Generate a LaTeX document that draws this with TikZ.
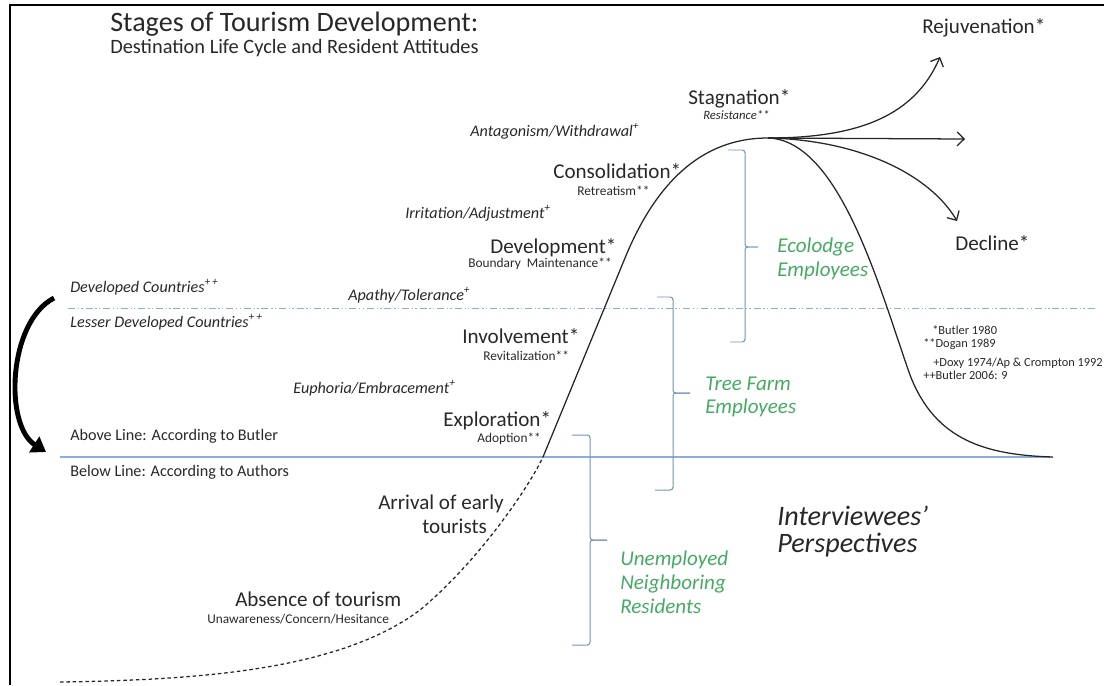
\documentclass[tikz,border=0pt]{standalone}
\usepackage{fontspec}
\setmainfont{Carlito}
\usetikzlibrary{arrows.meta}
\definecolor{textgray}{RGB}{40,40,40}
\definecolor{labelgreen}{RGB}{70,170,100}
\definecolor{lineblue}{RGB}{140,175,215}
\definecolor{bracegray}{RGB}{115,145,185}

\begin{document}
\begin{tikzpicture}[x=0.025cm, y=-0.025cm,
  lbl/.style={anchor=base west, inner sep=0pt, text=textgray},
  stage/.style={lbl, font=\fontsize{15}{18}\selectfont},
  sub/.style={lbl, font=\fontsize{9.5}{11}\selectfont},
  attitude/.style={lbl, font=\fontsize{11.5}{14}\selectfont\itshape},
  group/.style={lbl, text=labelgreen, font=\fontsize{15}{18}\selectfont\itshape},
  ref/.style={lbl, font=\fontsize{8.8}{10}\selectfont},
  bracket/.style={draw=bracegray, line width=0.7pt, rounded corners=2pt},
  curve/.style={line width=0.9pt, black!85},
  branch/.style={curve, -{Straight Barb[length=5pt,width=10pt]}}]

\useasboundingbox (0,0) rectangle (1104,685);

% Frame
\draw[line width=2pt] (10,685) -- (10,5) -- (1104,5);

% Title
\node[lbl, font=\fontsize{20}{24}\selectfont] (title) at (110,31) {Stages of Tourism Development:};
\node[lbl, font=\fontsize{14.5}{17}\selectfont] (subtitle) at (110,53) {Destination Life Cycle and Resident Attitudes};

% Reference lines
\draw[lineblue, line width=0.6pt, dash pattern=on 5pt off 2pt on 1pt off 1.5pt on 1pt off 2pt] (68,308) -- (1095,308);
\draw[lineblue, line width=0.8pt] (60,457) -- (1050,457);

% Life cycle curve
\coordinate (dashstart) at (60,682);
\coordinate (solidstart) at (543,457);
\coordinate (peak) at (768,138);
\coordinate (tailend) at (1053,457);
\coordinate (rejtip) at (940,57);
\coordinate (sametip) at (965,139);
\coordinate (dectip) at (957,221);
\draw[curve, dash pattern=on 2.5pt off 2pt] (dashstart) .. controls (200,680) and (340,670) .. (420,610)
  .. controls (480,560) and (530,485) .. (solidstart);
\draw[curve] (solidstart) -- (625,258) .. controls (655,185) and (700,138) .. (peak);
\draw[curve] (peak) .. controls (840,140) and (880,290) .. (910,375) .. controls (935,440) and (985,455) .. (tailend);
\draw[branch] (peak) .. controls (860,138) and (915,115) .. (rejtip);
\draw[branch] (peak) -- (sametip);
\draw[branch] (peak) .. controls (860,140) and (930,175) .. (dectip);

% Left arrow
\draw[line width=3.5pt, -{Triangle[length=10pt,width=13pt]}] (54,298) .. controls (8,322) and (4,425) .. (46,452);

% Stages
\node[stage] (rejuv) at (922,33) {Rejuvenation*};
\node[stage] (stag) at (688,104) {Stagnation*};
\node[sub, font=\fontsize{9}{11}\selectfont\itshape] (resist) at (703,119) {Resistance**};
\node[stage] (consol) at (553,178) {Consolidation*};
\node[sub] (retreat) at (577,195) {Retreatism**};
\node[stage] (devel) at (490,253) {Development*};
\node[sub] (boundary) at (468,267) {Boundary~~Maintenance**};
\node[stage] (involve) at (462,343) {Involvement*};
\node[sub] (revital) at (483,360) {Revitalization**};
\node[stage] (explore) at (443,426) {Exploration*};
\node[sub] (adopt) at (477,442) {Adoption**};
\node[stage] (arrival1) at (378,509) {Arrival of early};
\node[stage] (arrival2) at (422,533) {tourists};
\node[stage] (absence) at (235,606) {Absence of tourism};
\node[sub] (unaware) at (207,623) {Unawareness/Concern/Hesitance};
\node[stage] (decline) at (955,250) {Decline*};

% Attitudes
\node[attitude] (antag) at (470,136) {Antagonism/Withdrawal\textsuperscript{+}};
\node[attitude] (irrit) at (405,218) {Irritation/Adjustment\textsuperscript{+}};
\node[attitude] (apathy) at (348,300) {Apathy/Tolerance\textsuperscript{+}};
\node[attitude] (euphoria) at (293,393) {Euphoria/Embracement\textsuperscript{+}};
\node[attitude] (devd) at (70,292) {Developed Countries\textsuperscript{+\,+}};
\node[attitude] (lessd) at (70,327) {Lesser Developed Countries\textsuperscript{+\,+}};
\node[lbl, font=\fontsize{11.5}{14}\selectfont] (above) at (70,440) {Above Line: According to Butler};
\node[lbl, font=\fontsize{11.5}{14}\selectfont] (below) at (70,476) {Below Line: According to Authors};

% Brackets and groups
\draw[bracket] (728,150) -- (745,150) -- (745,247) -- (758,247);
\draw[bracket] (758,247) -- (745,247) -- (745,342) -- (730,342);
\draw[bracket] (657,297) -- (673,297) -- (673,393) -- (690,393);
\draw[bracket] (690,393) -- (673,393) -- (673,490) -- (655,490);
\draw[bracket] (572,435) -- (590,435) -- (590,540) -- (607,540);
\draw[bracket] (607,540) -- (590,540) -- (590,645) -- (572,645);
\node[group] (eco1) at (777,252) {Ecolodge};
\node[group] (eco2) at (777,276) {Employees};
\node[group] (tree1) at (705,390) {Tree Farm};
\node[group] (tree2) at (705,413) {Employees};
\node[group] (unemp1) at (620,565) {Unemployed};
\node[group] (unemp2) at (620,589) {Neighboring};
\node[group] (unemp3) at (620,613) {Residents};
\node[lbl, font=\fontsize{20}{24}\selectfont\itshape] (view1) at (777,525) {Interviewees'};
\node[lbl, font=\fontsize{20}{24}\selectfont\itshape] (view2) at (777,552) {Perspectives};

% Sources
\node[ref] (ref1) at (932,334) {*Butler 1980};
\node[ref] (ref2) at (923,347) {**Dogan 1989};
\node[ref] (ref3) at (933,366) {+Doxy 1974/Ap \& Crompton 1992};
\node[ref] (ref4) at (923,379) {++Butler 2006: 9};
\end{tikzpicture}
\end{document}
